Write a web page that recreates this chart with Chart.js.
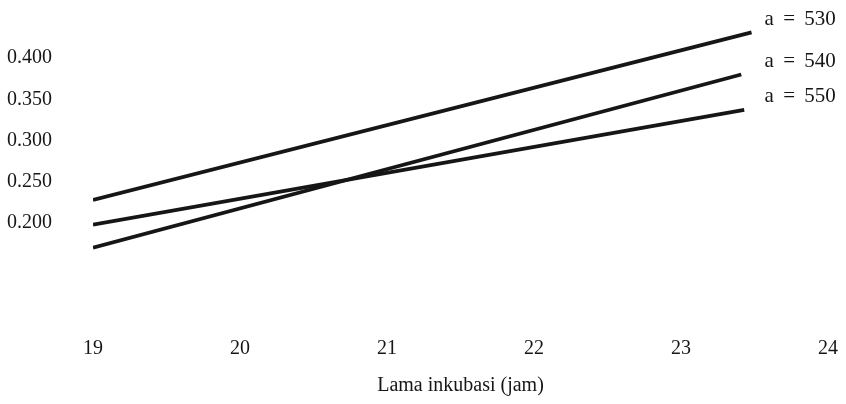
<!DOCTYPE html>
<html>
<head>
<meta charset="utf-8">
<script src="https://cdn.jsdelivr.net/npm/chart.js@4.4.0/dist/chart.umd.min.js"></script>
<style>
  html, body { margin: 0; padding: 0; background: #ffffff; }
  #wrap { width: 846px; height: 404px; position: relative; }
</style>
</head>
<body>
<div id="wrap"><canvas id="c" width="846" height="404"></canvas></div>
<script>
// ---- data ----
const seriesLabels = ['a = 530', 'a = 540', 'a = 550'];
const hours530 = [19, 23.48];
const values530 = [0.228, 0.431];
const hours540 = [19, 23.41];
const values540 = [0.170, 0.380];
const hours550 = [19, 23.43];
const values550 = [0.198, 0.337];
const xTickValues = [19, 20, 21, 22, 23, 24];
const yTickValues = [0.200, 0.250, 0.300, 0.350, 0.400];
const yTickLabels = ['0.200', '0.250', '0.300', '0.350', '0.400'];
const xTitle = 'Lama inkubasi (jam)';

const toPoints = (xs, ys) => xs.map((x, i) => ({ x: x, y: ys[i] }));

const FONT = "'Liberation Serif', 'Times New Roman', serif";
const INK = '#161616';

const lineLabels = {
  id: 'lineLabels',
  afterDatasetsDraw(chart) {
    const ctx = chart.ctx;
    ctx.save();
    ctx.font = '21px ' + FONT;
    try { ctx.wordSpacing = '4px'; } catch (e) {}
    ctx.fillStyle = INK;
    ctx.textAlign = 'left';
    ctx.textBaseline = 'middle';
    let maxX = 0;
    chart.data.datasets.forEach((ds, i) => {
      const pts = chart.getDatasetMeta(i).data;
      maxX = Math.max(maxX, pts[pts.length - 1].x);
    });
    chart.data.datasets.forEach((ds, i) => {
      const pts = chart.getDatasetMeta(i).data;
      const p = pts[pts.length - 1];
      ctx.fillText(ds.label, maxX + 13, p.y - 13);
    });
    ctx.restore();
  }
};

const mkDs = (label, pts) => ({
  label: label,
  data: pts,
  borderColor: INK,
  backgroundColor: INK,
  borderWidth: 3.8,
  pointRadius: 0,
  tension: 0,
  fill: false
});

new Chart(document.getElementById('c'), {
  type: 'line',
  data: {
    datasets: [
      mkDs(seriesLabels[0], toPoints(hours530, values530)),
      mkDs(seriesLabels[1], toPoints(hours540, values540)),
      mkDs(seriesLabels[2], toPoints(hours550, values550))
    ]
  },
  options: {
    responsive: false,
    animation: false,
    devicePixelRatio: 1,
    layout: { padding: { left: 7, right: 18, top: 16.75, bottom: 0 } },
    plugins: { legend: { display: false }, tooltip: { enabled: false } },
    scales: {
      x: {
        type: 'linear',
        min: 19,
        max: 24,
        grid: { display: false, drawTicks: true, tickLength: 28 },
        border: { display: false },
        afterBuildTicks: (s) => { s.ticks = xTickValues.map(v => ({ value: v })); },
        afterFit: (s) => { s.height = 98.5; },
        ticks: {
          color: INK,
          font: { family: FONT, size: 20 },
          padding: 3,
          maxRotation: 0,
          autoSkip: false,
          callback: (v) => String(v)
        },
        title: {
          display: true,
          text: xTitle,
          color: INK,
          font: { family: FONT, size: 20 },
          padding: { top: 0, bottom: 6 }
        }
      },
      y: {
        type: 'linear',
        min: 0.1,
        max: 0.45,
        grid: { display: false, drawTicks: false },
        border: { display: false },
        afterBuildTicks: (s) => { s.ticks = yTickValues.map(v => ({ value: v })); },
        afterFit: (s) => { s.width = 86; },
        ticks: {
          color: INK,
          font: { family: FONT, size: 20 },
          padding: 0,
          crossAlign: 'far',
          autoSkip: false,
          callback: (v) => {
            const i = yTickValues.findIndex(t => Math.abs(t - v) < 1e-9);
            return i >= 0 ? yTickLabels[i] : '';
          }
        }
      }
    }
  },
  plugins: [lineLabels]
});
</script>
</body>
</html>
